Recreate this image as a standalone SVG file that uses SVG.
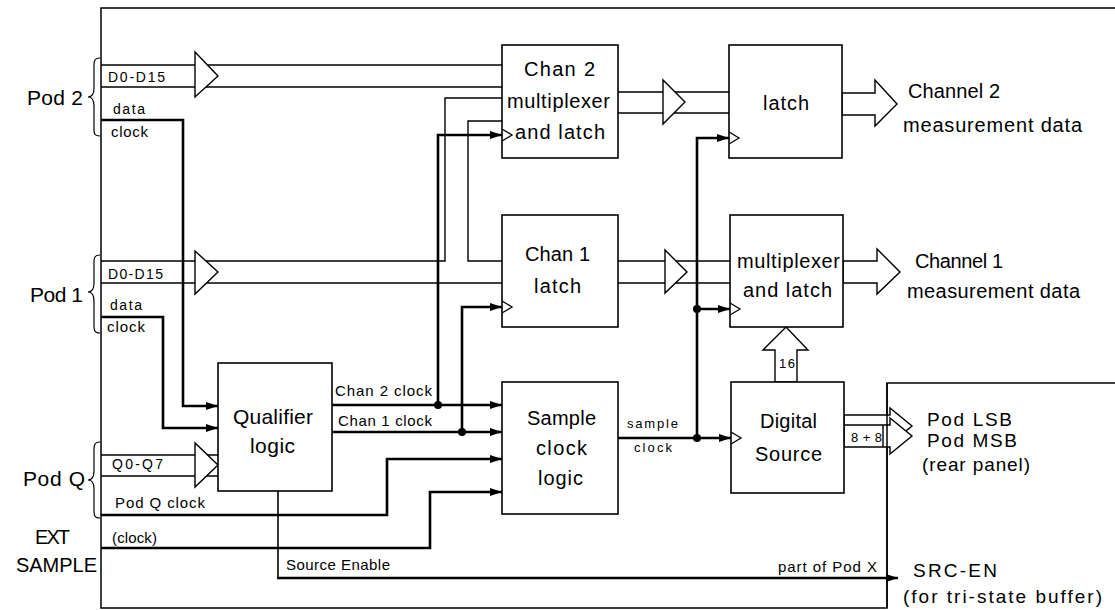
<svg xmlns="http://www.w3.org/2000/svg" width="1115" height="610" viewBox="0 0 1115 610">
<style>
text{font-family:"Liberation Sans",Arial,sans-serif;fill:#000}
.frame{fill:none;stroke:#000;stroke-width:1.5}
.bus{fill:none;stroke:#000;stroke-width:1.4}
.clk{fill:none;stroke:#000;stroke-width:2.6}
.thin{fill:none;stroke:#000;stroke-width:1.6}
.box{fill:#fff;stroke:#000;stroke-width:1.6}
.head{fill:#fff;stroke:#000;stroke-width:1.4;stroke-linejoin:miter}
.tri{fill:none;stroke:#000;stroke-width:1.3}
.brace{fill:none;stroke:#000;stroke-width:1.2}
.dot{fill:#000}
.big{font-size:21px}
.mid{font-size:20px}
.sm{font-size:15px}
.xs{font-size:13px}
</style>
<defs>
<marker id="ah" viewBox="0 0 12 8" refX="12" refY="4" markerWidth="12" markerHeight="8" markerUnits="userSpaceOnUse" orient="auto">
<path d="M0,0 L12,4 L0,8 z" fill="#000"/>
</marker>
</defs>
<rect width="1115" height="610" fill="#fff"/>

<g id="frame">
<path class="frame" d="M1115,8 H101 V608 H887 V383 H1115"/>
</g>

<g id="braces">
<path class="brace" d="M100,58 C93,58 94,63 94,70 L94,88 C94,94 92,97 88,97 C92,97 94,100 94,106 L94,126 C94,132 93,136 100,136"/>
<path class="brace" d="M100,255 C93,255 94,260 94,267 L94,283 C94,289 92,292 88,292 C92,292 94,295 94,301 L94,322 C94,328 93,333 100,333"/>
<path class="brace" d="M100,442 C93,442 94,447 94,454 L94,471 C94,477 92,480 88,480 C92,480 94,483 94,489 L94,507 C94,513 93,518 100,518"/>
</g>

<g id="connectors">
<!-- Pod 2 bus -->
<path class="bus" d="M101,65 H502 M101,87 H502"/>
<polygon class="head" points="195,65 195,52 218,76 195,97 195,87"/>
<!-- Pod 1 bus with fork -->
<path class="bus" d="M101,261 H445 V98 H502 M101,283 H502 M502,121 H468 V261 H502"/>
<polygon class="head" points="195,261 195,251 218,272 195,294 195,283"/>
<!-- Pod Q bus -->
<path class="bus" d="M101,455 H218 M101,476 H218"/>
<polygon class="head" points="195,455 195,443 218,465 195,487 195,476"/>
<!-- Chan 2 output bus -->
<path class="bus" d="M618,92 H729 M618,113 H729"/>
<polygon class="head" points="663,92 663,80 685,102 663,124 663,113"/>
<!-- Chan 1 output bus -->
<path class="bus" d="M618,261 H730 M618,283 H730"/>
<polygon class="head" points="665,261 665,250 687,272 665,293 665,283"/>
<!-- Channel 2 out -->
<polygon class="head" points="842,93 875,93 875,80 897,104 875,126 875,115 842,115"/>
<!-- Channel 1 out -->
<polygon class="head" points="843,261 877,261 877,249 900,272 877,294 877,283 843,283"/>
<!-- 16 bus -->
<polygon class="head" points="775,382 775,350 763,350 786,327 808,350 797,350 797,382"/>
<!-- Pod LSB / MSB double bus -->
<polygon class="head" points="844,415 890,415 890,408 912,426 890,444 890,437 844,437"/>
<polygon class="head" points="844,425 890,425 890,418 912,436 890,454 890,447 844,447"/>
<path class="bus" d="M883,425 V447"/>

<!-- Pod 2 clock -->
<path class="clk" d="M101,120 H183 V406 H218" marker-end="url(#ah)"/>
<!-- Pod 1 clock -->
<path class="clk" d="M101,317 H163 V428 H218" marker-end="url(#ah)"/>
<!-- Chan 2 clock -->
<path class="clk" d="M332,405 H502" marker-end="url(#ah)"/>
<path class="clk" d="M438,405 V135 H502" marker-end="url(#ah)"/>
<!-- Chan 1 clock -->
<path class="clk" d="M332,432 H502" marker-end="url(#ah)"/>
<path class="clk" d="M462,432 V307 H502" marker-end="url(#ah)"/>
<!-- Pod Q clock -->
<path class="clk" d="M101,515 H387 V459 H502" marker-end="url(#ah)"/>
<!-- EXT clock -->
<path class="clk" d="M101,548 H430 V492 H502" marker-end="url(#ah)"/>
<!-- sample clock -->
<path class="clk" d="M618,438 H731" marker-end="url(#ah)"/>
<path class="clk" d="M697,438 V138 H729" marker-end="url(#ah)"/>
<path class="clk" d="M697,309 H730" marker-end="url(#ah)"/>
<!-- Source enable -->
<path class="thin" d="M278,491 V578"/>
<path class="clk" d="M277,578 H898" marker-end="url(#ah)"/>
<circle class="dot" cx="438" cy="405" r="4"/>
<circle class="dot" cx="462" cy="432" r="4"/>
<circle class="dot" cx="697" cy="438" r="4"/>
<circle class="dot" cx="697" cy="309" r="4"/>
<!-- frame piece over buses -->
<path class="frame" d="M887,383 V608"/>
</g>

<g id="chan2">
<rect class="box" x="502" y="45" width="116" height="113"/>
<path class="tri" d="M502,129 L512,135 L502,141"/>
<text class="mid" x="524" y="76" textLength="71">Chan 2</text>
<text class="mid" x="507" y="108" textLength="103">multiplexer</text>
<text class="mid" x="515" y="139" textLength="90">and latch</text>
</g>

<g id="chan1">
<rect class="box" x="502" y="215" width="116" height="112"/>
<path class="tri" d="M502,301 L512,307 L502,313"/>
<text class="mid" x="525" y="261" textLength="65">Chan 1</text>
<text class="mid" x="534" y="293" textLength="47">latch</text>
</g>

<g id="latch">
<rect class="box" x="729" y="45" width="113" height="113"/>
<path class="tri" d="M729,132 L739,138 L729,144"/>
<text class="mid" x="763" y="110" textLength="46">latch</text>
</g>

<g id="mux">
<rect class="box" x="730" y="215" width="113" height="112"/>
<path class="tri" d="M730,303 L740,309 L730,315"/>
<text class="mid" x="737" y="268" textLength="103">multiplexer</text>
<text class="mid" x="743" y="297" textLength="89">and latch</text>
</g>

<g id="qualifier">
<rect class="box" x="218" y="363" width="114" height="128"/>
<text class="big" x="233" y="424" textLength="80">Qualifier</text>
<text class="big" x="250" y="453" textLength="45">logic</text>
</g>

<g id="sample">
<rect class="box" x="502" y="382" width="116" height="132"/>
<text class="mid" x="527" y="425" textLength="69">Sample</text>
<text class="mid" x="536" y="455" textLength="51">clock</text>
<text class="mid" x="538" y="485" textLength="45">logic</text>
</g>

<g id="digital">
<rect class="box" x="731" y="382" width="113" height="111"/>
<path class="tri" d="M731,432 L741,438 L731,444"/>
<text class="mid" x="760" y="428" textLength="57">Digital</text>
<text class="mid" x="755" y="461" textLength="67">Source</text>
</g>

<g id="labels">
<text class="big" x="27" y="105" textLength="56">Pod 2</text>
<text class="big" x="30" y="302" textLength="53">Pod 1</text>
<text class="big" x="23" y="486" textLength="62">Pod Q</text>
<text class="mid" x="35" y="544" textLength="35">EXT</text>
<text class="mid" x="16" y="572" textLength="81">SAMPLE</text>
<text font-size="14" x="108" y="82" textLength="57">D0-D15</text>
<text font-size="14" x="113" y="114" textLength="32">data</text>
<text class="sm" x="111" y="137" textLength="37">clock</text>
<text font-size="14" x="108" y="279" textLength="55">D0-D15</text>
<text font-size="14" x="110" y="310" textLength="32">data</text>
<text class="sm" x="107" y="332" textLength="38">clock</text>
<text font-size="14" x="112" y="469" textLength="51">Q0-Q7</text>
<text class="sm" x="115" y="508" textLength="90">Pod Q clock</text>
<text class="sm" x="112" y="543" textLength="45">(clock)</text>
<text class="sm" x="286" y="570" textLength="104">Source Enable</text>
<text class="sm" x="778" y="572" textLength="99">part of Pod X</text>
<text class="sm" x="335" y="396" textLength="97">Chan 2 clock</text>
<text class="sm" x="338" y="426" textLength="94">Chan 1 clock</text>
<text class="xs" x="627" y="428" textLength="51">sample</text>
<text class="xs" x="634" y="452" textLength="38">clock</text>
<text class="xs" x="779" y="368" textLength="16">16</text>
<text class="xs" x="851" y="442" textLength="31">8+8</text>
<text class="mid" x="908" y="98" textLength="92">Channel 2</text>
<text class="mid" x="903" y="132" textLength="179">measurement data</text>
<text class="mid" x="915" y="268" textLength="88">Channel 1</text>
<text class="mid" x="907" y="298" textLength="173">measurement data</text>
<text font-size="19" x="927" y="426" textLength="85">Pod LSB</text>
<text font-size="19" x="927" y="447" textLength="90">Pod MSB</text>
<text font-size="19" x="922" y="471" textLength="108">(rear panel)</text>
<text font-size="19" x="913" y="577" textLength="84">SRC-EN</text>
<text font-size="19" x="903" y="603" textLength="199">(for tri-state buffer)</text>
</g>
</svg>
